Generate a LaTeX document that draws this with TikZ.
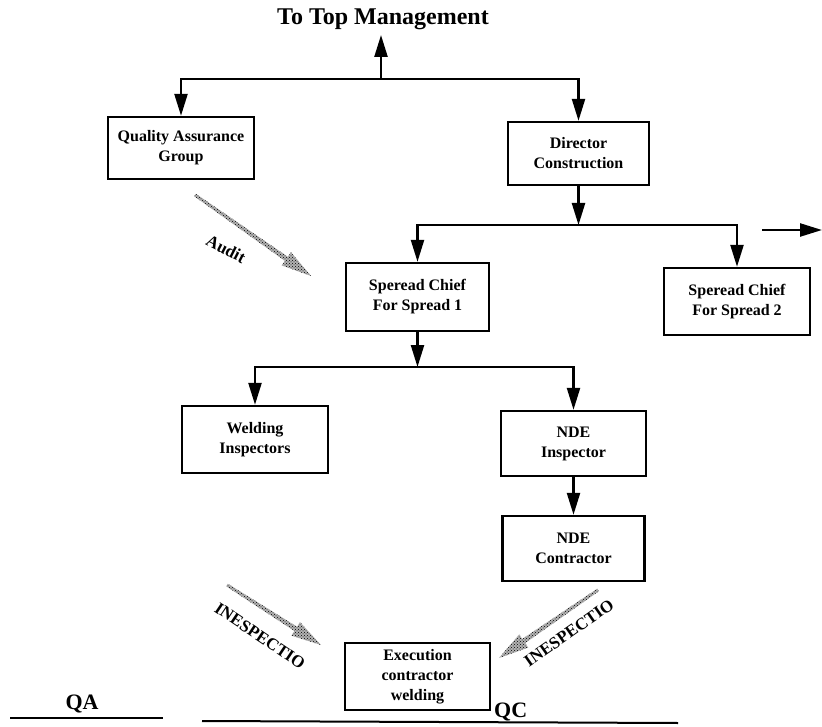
\documentclass[tikz,border=0pt]{standalone}
\usepackage{fontspec}
\setmainfont{Liberation Serif}
\usetikzlibrary{arrows.meta,calc,patterns}
\newcommand{\boxfont}{\bfseries\fontsize{16}{20}\selectfont}
\newcommand{\bigfont}{\bfseries\fontsize{22}{24}\selectfont}
\newcommand{\titlefont}{\bfseries\fontsize{24}{26}\selectfont}
\newcommand{\slabfont}{\bfseries\fontsize{17}{19}\selectfont}
\tikzset{
  box/.style={draw, line width=2.4pt, align=center, font=\boxfont, inner sep=0pt},
  conn/.style={line width=2.4pt, -{Triangle[length=22pt,width=13pt]}},
  big/.style={font=\bigfont, inner sep=0pt},
  slab/.style={font=\slabfont, inner sep=0pt},
  rule/.style={line width=2pt},
  stipple/.style={fill=black!30},
  stipdots/.style={pattern=crosshatch dots, pattern color=black},
}
% stippled arrow from coordinate #1 to coordinate #2
\newcommand{\dotarrow}[2]{%
  \coordinate (#1h) at ($(#2)!30pt!(#1)$);
  \foreach \st in {stipple,stipdots}{
  \path[\st]
    ($(#1)!1.5pt!90:(#2)$) -- ($(#1h)!2.5pt!90:(#2)$) -- ($(#1h)!8pt!90:(#2)$)
    -- (#2)
    -- ($(#1h)!8pt!-90:(#2)$) -- ($(#1h)!2.5pt!-90:(#2)$) -- ($(#1)!1.5pt!-90:(#2)$) -- cycle;
  }
}
\begin{document}
\begin{tikzpicture}[x=1pt,y=-1pt]
\useasboundingbox (0,0) rectangle (822,727);

% title
\node[font=\titlefont, inner sep=0pt, anchor=base] (title) at (383,25) {To Top Management};

% boxes
\node[box, minimum width=146, minimum height=62] (qa) at (181,148) {Quality Assurance\\Group};
\node[box, minimum width=141, minimum height=63] (dir) at (578.5,153.5) {Director\\Construction};
\node[box, minimum width=143, minimum height=68] (s1) at (417.5,297) {Speread Chief\\For Spread 1};
\node[box, minimum width=146, minimum height=67] (s2) at (737,301.5) {Speread Chief\\For Spread 2};
\node[box, minimum width=146, minimum height=67] (wi) at (255,439.5) {Welding\\Inspectors};
\node[box, minimum width=145, minimum height=65] (ndei) at (573.5,443.5) {NDE\\Inspector};
\node[box, minimum width=142, minimum height=65] (ndec) at (573.5,548.5) {NDE\\Contractor};
\node[box, minimum width=145, minimum height=67] (ex) at (417.5,676.5) {Execution\\contractor\\welding};

% connectors
\coordinate (j1) at (381,79);
\coordinate (tm) at (381,35);
\draw[conn] (j1) -- (tm);
\draw[conn] (j1) -| (qa);
\draw[conn] (j1) -| (dir);

\coordinate (j2) at (578.5,225);
\draw[conn] (dir) -- (j2);
\draw[conn] (j2) -| (s1);
\draw[conn] (j2) -| (s2);

\coordinate (ra1) at (762,230);
\coordinate (ra2) at (822,230);
\draw[conn] (ra1) -- (ra2);

\coordinate (j3) at (417.5,367);
\draw[conn] (s1) -- (j3);
\draw[conn] (j3) -| (wi);
\draw[conn] (j3) -| (ndei);
\draw[conn] (ndei) -- (ndec);

% stippled arrows
\coordinate (au1) at (195,195);
\coordinate (au2) at (311,276);
\dotarrow{au1}{au2}
\node[slab, rotate=-27] (audit) at (226,249) {Audit};

\coordinate (il1) at (227,585);
\coordinate (il2) at (321,645);
\dotarrow{il1}{il2}
\node[slab, rotate=-34] (insl) at (260,636) {INESPECTIO};

\coordinate (ir1) at (598,590);
\coordinate (ir2) at (499,658);
\dotarrow{ir1}{ir2}
\node[slab, rotate=35] (insr) at (569,633) {INESPECTIO};

% QA / QC
\node[big, anchor=base] (qal) at (82,709) {QA};
\coordinate (qa1) at (10,718);
\coordinate (qa2) at (163,718);
\draw[rule] (qa1) -- (qa2);

\node[big, anchor=base west] (qcl) at (494,717) {QC};
\coordinate (qc1) at (202,721);
\coordinate (qc2) at (678,723);
\draw[rule] (qc1) -- (qc2);
\end{tikzpicture}
\end{document}
